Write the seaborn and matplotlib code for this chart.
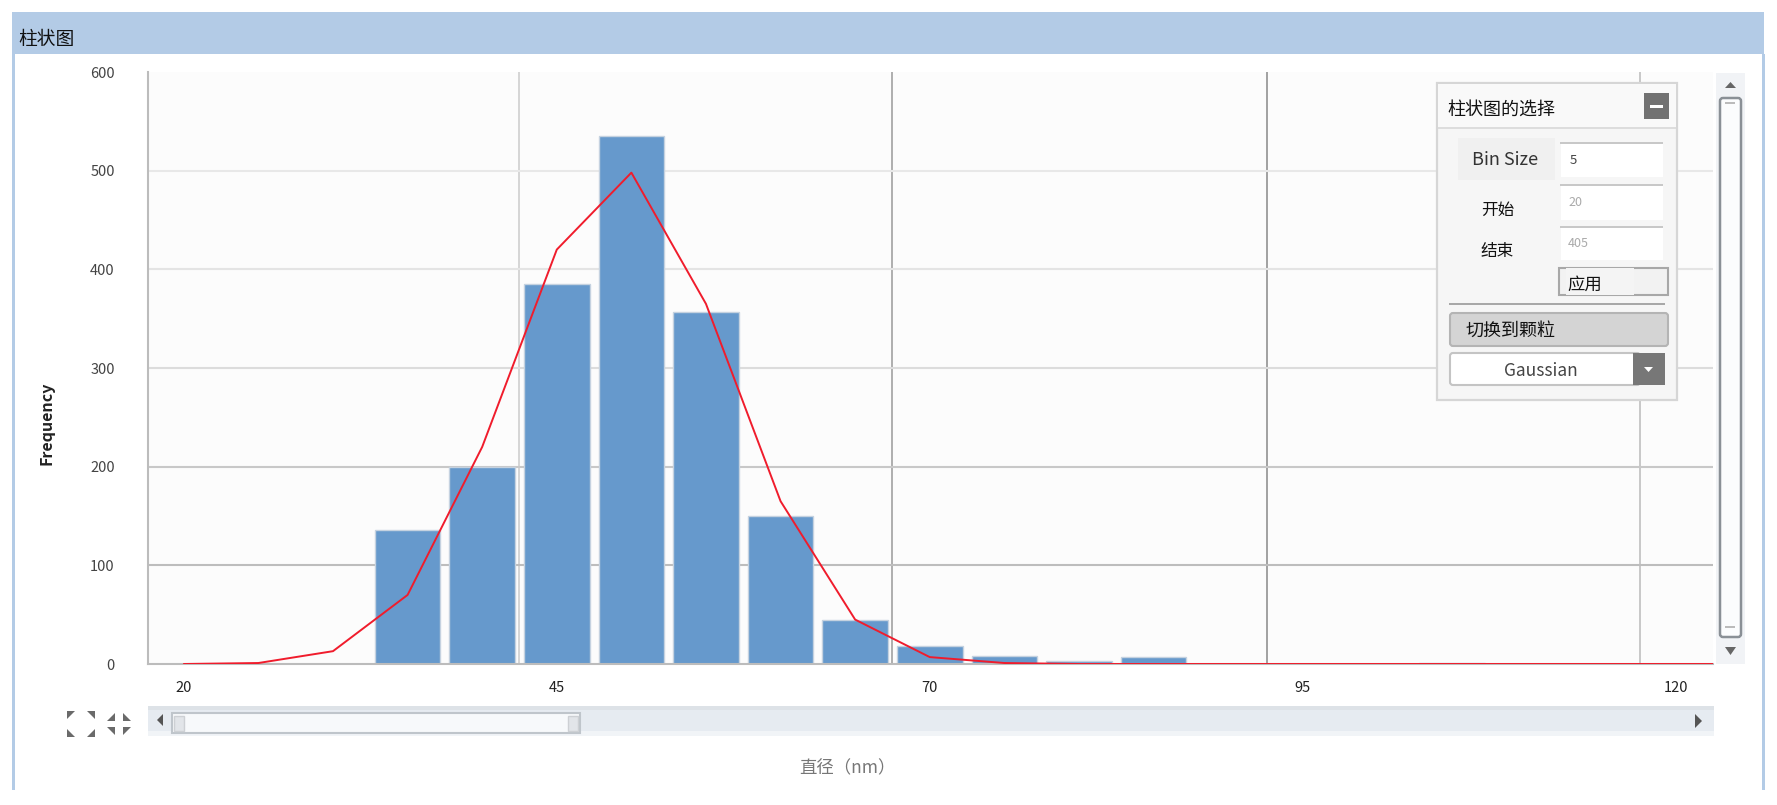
import pandas as pd
import matplotlib
matplotlib.use('Agg')
import matplotlib.pyplot as plt
import seaborn as sns
from matplotlib.patches import Rectangle, FancyBboxPatch, Polygon

# Histogram bins
bin_centers = [35, 40, 45, 50, 55, 60, 65, 70, 75, 80, 85, 105]
frequency = [136, 200, 385, 535, 357, 150, 45, 18, 8, 3, 7, 1]

# Gaussian fit
fit_x = [20, 25, 30, 35, 40, 45, 50, 55, 60, 65, 70, 75, 80, 85, 90, 95, 100, 105, 110, 115, 120, 125]
fit_y = [0, 1, 13, 70, 220, 420, 498, 365, 165, 45, 7, 1, 0, 0, 0, 0, 0, 0, 0, 0, 0, 0]

# Axis labels and grid
x_ticks = [20, 45, 70, 95, 120]
y_ticks = [0, 100, 200, 300, 400, 500, 600]
x_grid = [42.5, 67.5, 92.6, 117.6]
x_grid_colors = ['#d2d2d2', '#a8a8a8', '#9a9a9a', '#c4c4c4']
y_grid = [100, 200, 300, 400, 500]
y_grid_colors = ['#bdbdbd', '#c8c8c8', '#dcdcdc', '#e4e4e4', '#e8e8e8']

W, H = 1777, 805

sns.set_theme(style='white')
plt.rcParams['font.family'] = ['Noto Sans CJK SC', 'DejaVu Sans']

fig = plt.figure(figsize=(W / 100, H / 100), dpi=100, facecolor='white')
ax = fig.add_axes([148 / W, 1 - 664 / H, (1713 - 148) / W, (664 - 72) / H], facecolor='#fcfcfc')

for g, c in zip(x_grid, x_grid_colors):
    ax.axvline(g, color=c, lw=1.3, zorder=0)
for g, c in zip(y_grid, y_grid_colors):
    ax.axhline(g, color=c, lw=1.5, zorder=0)

df = pd.DataFrame({'diameter': bin_centers, 'frequency': frequency})
sns.barplot(data=df, x='diameter', y='frequency', native_scale=True, width=0.88,
            color='#6699cc', saturation=1, edgecolor='#c5d2e0', linewidth=1, zorder=2, ax=ax)
fit = pd.DataFrame({'x': fit_x, 'y': fit_y})
sns.lineplot(data=fit, x='x', y='y', color='#f01c2c', lw=1.4, zorder=3, ax=ax, clip_on=True)

ax.set_xlim(17.6, 122.5)
ax.set_ylim(0, 600)
ax.set_xticks(x_ticks)
ax.set_yticks(y_ticks)
ax.tick_params(axis='x', length=0, pad=12, labelsize=10.5, labelcolor='#222222')
ax.tick_params(axis='y', length=0, pad=24, labelsize=10.5, labelcolor='#444444')
ax.set_xlabel('')
ax.set_ylabel('')
sns.despine(ax=ax, top=True, right=True)
for s in ['left', 'bottom']:
    ax.spines[s].set_color('#bcbcbc')
    ax.spines[s].set_linewidth(1.5)

# window chrome, in pixels
ui = fig.add_axes([0, 0, 1, 1], zorder=5)
ui.set_xlim(0, W)
ui.set_ylim(H, 0)
ui.axis('off')
ui.patch.set_alpha(0)


def box(x0, y0, x1, y1, face, edge='none', lw=1, z=1):
    ui.add_patch(Rectangle((x0, y0), x1 - x0, y1 - y0, facecolor=face, edgecolor=edge, lw=lw, zorder=z))


def rbox(x0, y0, x1, y1, face, edge='none', lw=1, z=1):
    ui.add_patch(FancyBboxPatch((x0 + 3, y0 + 3), x1 - x0 - 6, y1 - y0 - 6, boxstyle='round,pad=3',
                                facecolor=face, edgecolor=edge, lw=lw, zorder=z))


def tri(points, color='#555555'):
    ui.add_patch(Polygon(points, closed=True, facecolor=color, edgecolor='none', zorder=4))


def label(x, y, s, size=11.5, color='#111111', ha='center', **kw):
    ui.text(x, y, s, fontsize=size, color=color, ha=ha, va='center', zorder=6, **kw)


# title bar and outer borders
box(12, 12, 1764, 54, '#b3cbe6')
box(12, 54, 15, 790, '#b3cbe6')
box(1762, 54, 1765, 790, '#b3cbe6')
label(18, 40, '柱状图', ha='left', size=13.5)
label(46, 423, 'Frequency', size=11.5, rotation=90, fontweight='bold', color='#222222')
label(847, 768, '直径（nm）', size=12.5, color='#777777')

# vertical scrollbar
box(1716, 73, 1745, 664, '#f1f3f6', z=1)
rbox(1720, 98, 1741, 637, '#fbfcfd', edge='#8a9096', lw=1.8, z=2)
box(1725, 102, 1735, 104, '#bbbbbb', z=3)
box(1725, 626, 1735, 628, '#bbbbbb', z=3)
tri([(1725, 88), (1736, 88), (1730.5, 82)], '#666666')
tri([(1725, 647), (1736, 647), (1730.5, 655)], '#666666')

# horizontal scrollbar
box(148, 706, 1714, 736, '#e6ebf1')
box(148, 706, 1714, 710, '#dde2e7')
box(148, 731, 1714, 736, '#f1f4f7')
box(172, 713, 580, 733, '#f7f9fb', edge='#bfc5cb', lw=1.5, z=2)
box(174, 716, 184, 731, '#e2e5e9', edge='#cdd0d4', z=3)
box(568, 716, 578, 731, '#e2e5e9', edge='#cdd0d4', z=3)
tri([(163, 714), (163, 726), (157, 720)])
tri([(1695, 714), (1695, 728), (1702, 721)])

# zoom icons, four little corners each
for cx in [81, 119]:
    for dx, dy in [(-9, -8), (9, -8), (-9, 8), (9, 8)]:
        sx = 1 if dx > 0 else -1
        sy = 1 if dy > 0 else -1
        x, y = cx + dx, 724 + dy
        if cx == 81:
            tri([(x + sx * 5, y + sy * 5), (x - sx * 3, y + sy * 5), (x + sx * 5, y - sy * 3)], '#6a6a6a')
        else:
            tri([(x - sx * 5, y - sy * 5), (x + sx * 3, y - sy * 5), (x - sx * 5, y + sy * 3)], '#6a6a6a')

# options panel
box(1437, 83, 1677, 400, '#f6f6f6', edge='#d6d6d6', lw=1.6, z=1)
box(1438, 84, 1676, 127, '#f9f9f9', z=2)
box(1438, 127, 1676, 129, '#dddddd', z=2)
label(1447, 110, '柱状图的选择', ha='left', size=13)
box(1644, 93, 1669, 119, '#727272', z=3)
box(1650, 105, 1663, 108, 'white', z=4)

box(1458, 138, 1555, 180, '#f0f0f0', z=2)
label(1505, 160, 'Bin Size', size=13, color='#333333', fontweight='medium')
for y0, y1 in [(143, 177), (185, 220), (227, 260)]:
    box(1561, y0, 1663, y1, 'white', z=2)
    box(1560, y0 - 1, 1663, y0 + 1, '#c8c8c8', z=3)
label(1570, 160, '5', size=9.5, ha='left', color='#444444')
label(1568, 202, '20', size=9, ha='left', color='#aaaaaa')
label(1568, 243, '405', size=9, ha='left', color='#aaaaaa')
label(1498, 210, '开始', size=12)
label(1497, 251, '结束', size=12)

box(1559, 268, 1668, 295, '#f2f2f2', edge='#a8a8a8', lw=1.5, z=2)
box(1566, 268, 1634, 295, '#f4f4f4', z=3)
label(1585, 285, '应用', size=12.5)
box(1449, 303, 1665, 305, '#a8a8a8', z=2)

rbox(1450, 313, 1668, 346, '#d4d4d4', edge='#b4b4b4', lw=1.5, z=2)
label(1465, 331, '切换到颗粒', ha='left', size=13)
rbox(1450, 353, 1640, 385, 'white', edge='#c4c4c4', lw=1.5, z=2)
label(1541, 371, 'Gaussian', size=12.5, color='#444444', fontweight='medium')
box(1633, 353, 1665, 385, '#777777', z=3)
tri([(1644, 367), (1653, 367), (1648.5, 372)], 'white')

fig.savefig('out.png', dpi=100, facecolor='white')
